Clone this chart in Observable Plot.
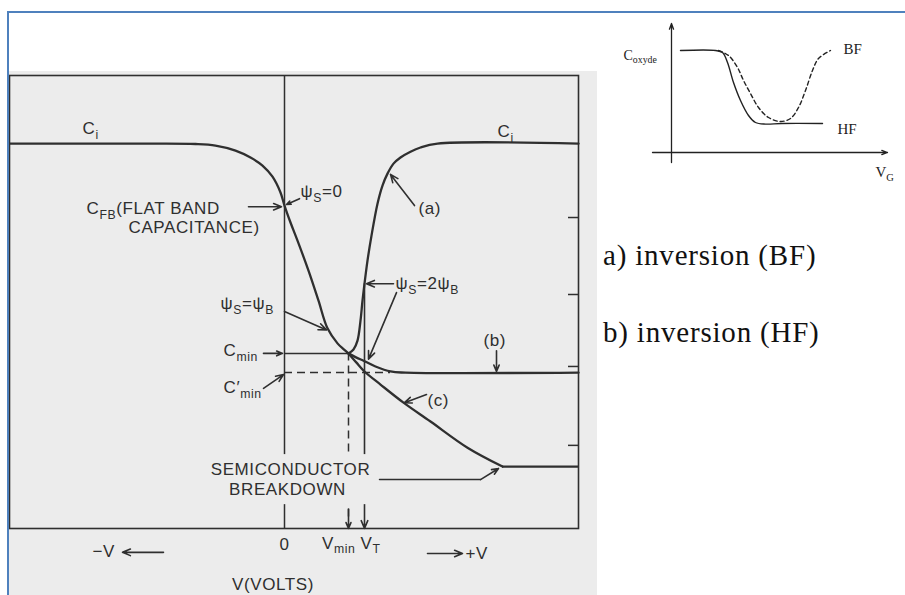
<!DOCTYPE html>
<html>
<head>
<meta charset="utf-8">
<script src="https://cdn.jsdelivr.net/npm/d3@7"></script>
<script src="https://cdn.jsdelivr.net/npm/@observablehq/plot@0.6"></script>
<style>
  html, body { margin: 0; padding: 0; background: #fff; }
  #page { position: relative; width: 905px; height: 595px; overflow: hidden; background: #fff; }
  #scan { position: absolute; left: 9px; top: 71px; width: 588px; height: 524px; }
  #inset { position: absolute; left: 615px; top: 14px; width: 290px; height: 181px; }
  #scan svg, #inset svg { display: block; }
  #scan text { letter-spacing: 0.6px; }
  .rule { position: absolute; background: #4f81bd; }
  .note { position: absolute; left: 603px; font: 29px "Liberation Serif", "Times New Roman", serif;
          letter-spacing: 0.8px; color: #111; line-height: 1; white-space: nowrap; }
</style>
</head>
<body>
<div id="page">
  <div id="scan"></div>
  <div id="inset"></div>
  <div class="rule" style="left:7px;top:11px;width:898px;height:2px"></div>
  <div class="rule" style="left:7px;top:11px;width:2px;height:584px"></div>
</div>
<script>
// ---- MOS C–V characteristic (normalised capacitance C/Ci versus gate voltage) ----

// Accumulation → depletion branch, from Ci down to the minimum
const accumV = [-5.5, -2.68, -1.78, -1.38, -0.98, -0.68, -0.44, -0.24, -0.08, 0, 0.12, 0.26, 0.48, 0.68, 0.86, 1.06, 1.18, 1.28];
const accumC = [1.0, 1.0, 0.999, 0.995, 0.982, 0.964, 0.943, 0.914, 0.873, 0.839, 0.795, 0.748, 0.670, 0.592, 0.520, 0.481, 0.466, 0.455];

// (a) low frequency: inversion layer follows, capacitance climbs back to Ci
const lowFreqV = [1.28, 1.38, 1.46, 1.52, 1.56, 1.60, 1.66, 1.74, 1.86, 1.96, 2.06, 2.18, 2.32, 2.52, 2.72, 3.06, 5.88];
const lowFreqC = [0.455, 0.465, 0.488, 0.540, 0.592, 0.636, 0.696, 0.761, 0.844, 0.891, 0.922, 0.948, 0.964, 0.979, 0.990, 1.0, 1.0];

// (b) high frequency: saturates at C'min
const highFreqV = [1.28, 1.44, 1.58, 1.82, 2.12, 2.42, 5.88];
const highFreqC = [0.455, 0.444, 0.436, 0.421, 0.408, 0.405, 0.405];

// (c) deep depletion down to semiconductor breakdown
const deepV = [1.28, 1.44, 1.60, 1.92, 2.38, 2.92, 3.66, 4.36];
const deepC = [0.455, 0.431, 0.408, 0.374, 0.327, 0.278, 0.210, 0.161];

// Characteristic voltages and capacitances
const Vfb = 0, Vmin = 1.28, VT = 1.6, Vmax = 5.88;
const Cmin = 0.455, CminPrime = 0.405, CvT = 0.636, Cbreak = 0.161;
const dashEndV = 2.12;
const rightTicks = [0.216, 0.421, 0.608, 0.808];

// Annotation pointers [x1, y1, x2, y2], head at (x2, y2)
const pointers = [
  [-0.72, 0.836, -0.06, 0.836],   // C_FB
  [0.30, 0.857, 0.04, 0.842],     // psi_S = 0
  [2.60, 0.839, 2.12, 0.920],     // (a)
  [2.18, 0.636, 1.64, 0.636],     // psi_S = 2 psi_B on (a)
  [2.24, 0.613, 1.68, 0.440],     // psi_S = 2 psi_B on (b)
  [0.0, 0.564, 0.84, 0.516],      // psi_S = psi_B
  [-0.42, 0.455, -0.04, 0.455],   // C_min
  [-0.42, 0.364, -0.02, 0.400],   // C'_min
  [4.24, 0.462, 4.24, 0.408],     // (b)
  [2.84, 0.348, 2.40, 0.327],     // (c)
  [3.92, 0.127, 4.28, 0.156],     // breakdown
  [-2.42, -0.062, -3.24, -0.062], // -V
  [2.86, -0.065, 3.56, -0.065],   // +V
  [VT, CvT, VT, 0],               // V_T
  [Vmin, 0.05, Vmin, 0]           // V_min head
];
const breakdownLeader = [[1.90, 0.127], [3.92, 0.127]];
// Blank band behind the breakdown caption
const captionBand = [{a: -1.5, b: 1.78, lo: 0.062, hi: 0.192}];

// Labels (text, V, C) by anchor
const startLabels = [
  ["C_{i}", -4.04, 1.026],
  ["C_{i}", 4.26, 1.016],
  ["C_{FB}(FLAT BAND", -3.96, 0.816],
  ["CAPACITANCE)", -3.12, 0.768],
  ["ψ_{S}=0", 0.32, 0.862],
  ["(a)", 2.68, 0.816],
  ["ψ_{S}=2ψ_{B}", 2.22, 0.623],
  ["ψ_{S}=ψ_{B}", -1.28, 0.571],
  ["C_{min}", -1.22, 0.447],
  ["C′_{min}", -1.22, 0.353],
  ["(b)", 3.98, 0.475],
  ["(c)", 2.86, 0.319],
  ["V_{T}", 1.52, -0.052],
  ["−V", -3.84, -0.075],
  ["+V", 3.62, -0.078]
];
const middleLabels = [
  ["0", 0, -0.057],
  ["V(VOLTS)", -0.23, -0.161],
  ["SEMICONDUCTOR", 0.12, 0.138],
  ["BREAKDOWN", 0.06, 0.086]
];
const endLabels = [
  ["V_{min}", 1.42, -0.052]
];

// ---- Inset: low (BF) and high (HF) frequency curves ----
const hfV = [0.45, 2.2, 2.55, 2.8, 3.1, 3.45, 3.85, 4.2, 4.7, 5.5, 7.55];
const hfC = [5.1, 5.1, 5.0, 4.5, 3.5, 2.6, 1.85, 1.5, 1.42, 1.45, 1.45];
const bfV = [2.35, 2.85, 3.3, 3.6, 3.95, 4.35, 4.85, 5.45, 5.95, 6.35, 6.7, 7.05, 7.35, 7.95];
const bfC = [5.1, 4.85, 4.25, 3.6, 2.95, 2.25, 1.75, 1.55, 1.7, 2.25, 3.1, 4.1, 4.7, 5.1];
const insetAxes = [[0, -0.5, 0, 6.45], [-0.95, 0, 10.8, 0]];
const insetLabels = [
  ["C_{oxyde}", -2.4, 4.65, 14],
  ["BF", 8.6, 4.95, 15],
  ["HF", 8.3, 0.95, 15],
  ["V_{G}", 10.2, -1.2, 15]
];
const notes = ["a) inversion (BF)", "b) inversion (HF)"];

const rows = (V, C) => V.map((v, i) => ({v, c: C[i]}));
const ink = "#2f2f2f";
const paper = "#ececec";

// Turn "X_{sub}" into a lowered, smaller tspan
function subscripts(svg, ratio = 0.72) {
  const ns = "http://www.w3.org/2000/svg";
  svg.querySelectorAll("text").forEach((t) => {
    const s = t.textContent;
    if (!s.includes("_{")) return;
    const parts = s.split(/_\{([^}]*)\}/);
    t.textContent = "";
    let down = false;
    parts.forEach((p, i) => {
      if (p === "") return;
      const span = document.createElementNS(ns, "tspan");
      if (i % 2) {
        span.setAttribute("font-size", `${ratio * 100}%`);
        span.setAttribute("dy", "0.4em");
        down = true;
      } else if (down) {
        span.setAttribute("dy", `${-0.4 * ratio}em`);
        down = false;
      }
      span.textContent = p;
      t.appendChild(span);
    });
  });
  return svg;
}

const textOpts = (anchor) => ({
  x: (d) => d[1], y: (d) => d[2], text: (d) => d[0],
  textAnchor: anchor, lineAnchor: "bottom", fontSize: 17, fill: ink
});

const main = Plot.plot({
  width: 588, height: 524,
  marginTop: 4, marginRight: 19, marginBottom: 67, marginLeft: 0,
  x: {domain: [-5.5, Vmax], axis: null},
  y: {domain: [0, 1.177], axis: null},
  style: {background: paper, color: ink, fontFamily: "'Liberation Sans', Arial, sans-serif"},
  marks: [
    Plot.frame({stroke: ink, strokeWidth: 1.6}),
    Plot.ruleX([Vfb], {stroke: ink, strokeWidth: 1.5}),
    Plot.tickY(rightTicks, {stroke: ink, strokeWidth: 1.5, insetLeft: 559}),
    Plot.ruleY([{c: Cmin, a: Vfb, b: Vmin}], {y: "c", x1: "a", x2: "b", stroke: ink, strokeWidth: 1.5}),
    Plot.ruleY([{c: CminPrime, a: Vfb, b: dashEndV}], {y: "c", x1: "a", x2: "b", stroke: ink, strokeWidth: 1.5, strokeDasharray: "8,5"}),
    Plot.ruleX([{v: Vmin, a: 0.03, b: Cmin}], {x: "v", y1: "a", y2: "b", stroke: ink, strokeWidth: 1.5, strokeDasharray: "8,5"}),
    Plot.ruleY([{c: Cbreak, a: deepV[deepV.length - 1], b: Vmax}], {y: "c", x1: "a", x2: "b", stroke: ink, strokeWidth: 2.3}),
    Plot.line(rows(accumV, accumC), {x: "v", y: "c", curve: "catmull-rom", stroke: ink, strokeWidth: 2.3}),
    Plot.line(rows(lowFreqV, lowFreqC), {x: "v", y: "c", curve: "catmull-rom", stroke: ink, strokeWidth: 2.3}),
    Plot.line(rows(highFreqV, highFreqC), {x: "v", y: "c", curve: "catmull-rom", stroke: ink, strokeWidth: 2.3}),
    Plot.line(rows(deepV, deepC), {x: "v", y: "c", curve: "catmull-rom", stroke: ink, strokeWidth: 2.3}),
    Plot.line(breakdownLeader, {x: (d) => d[0], y: (d) => d[1], stroke: ink, strokeWidth: 1.5}),
    Plot.arrow(pointers, {
      x1: (d) => d[0], y1: (d) => d[1], x2: (d) => d[2], y2: (d) => d[3],
      stroke: ink, strokeWidth: 1.6, headLength: 8, headAngle: 45
    }),
    Plot.rect(captionBand, {x1: "a", x2: "b", y1: "lo", y2: "hi", fill: paper}),
    Plot.text(startLabels, textOpts("start")),
    Plot.text(middleLabels, textOpts("middle")),
    Plot.text(endLabels, textOpts("end"))
  ]
});
document.getElementById("scan").appendChild(subscripts(main));

const inset = Plot.plot({
  width: 290, height: 181, margin: 0,
  x: {domain: [-2.8, 11.7], axis: null},
  y: {domain: [-2.15, 6.9], axis: null},
  style: {background: "transparent", color: "#222", fontFamily: "'Liberation Serif', 'Times New Roman', serif"},
  marks: [
    Plot.arrow(insetAxes, {
      x1: (d) => d[0], y1: (d) => d[1], x2: (d) => d[2], y2: (d) => d[3],
      stroke: "#222", strokeWidth: 1.3, headLength: 7, headAngle: 40
    }),
    Plot.line(rows(hfV, hfC), {x: "v", y: "c", curve: "catmull-rom", stroke: "#222", strokeWidth: 1.4}),
    Plot.line(rows(bfV, bfC), {x: "v", y: "c", curve: "catmull-rom", stroke: "#222", strokeWidth: 1.4, strokeDasharray: "4,3"}),
    Plot.text(insetLabels, {
      x: (d) => d[1], y: (d) => d[2], text: (d) => d[0],
      fontSize: (d) => d[3], textAnchor: "start", lineAnchor: "bottom", fill: "#222"
    })
  ]
});
document.getElementById("inset").appendChild(subscripts(inset, 0.7));

// Side notes
const page = document.getElementById("page");
notes.forEach((n, i) => {
  const div = document.createElement("div");
  div.className = "note";
  div.style.top = `${241 + i * 77}px`;
  div.textContent = n;
  page.appendChild(div);
});
</script>
</body>
</html>
